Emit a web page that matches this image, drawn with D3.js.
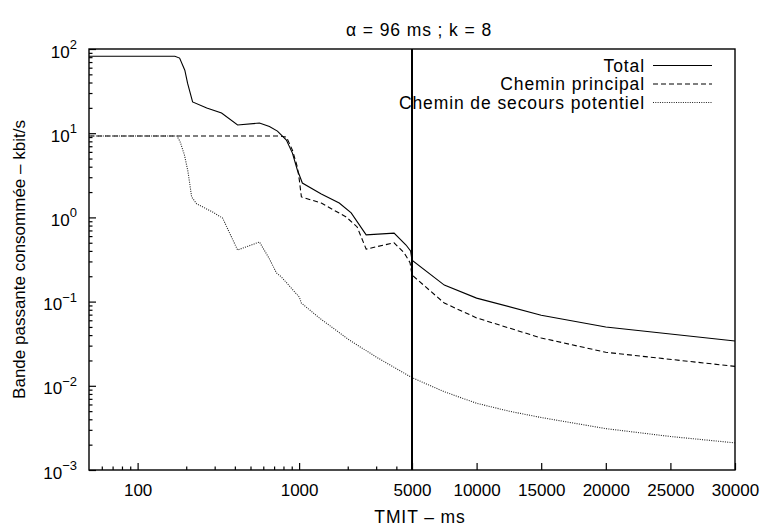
<!DOCTYPE html>
<html>
<head>
<meta charset="utf-8">
<script src="https://cdn.jsdelivr.net/npm/d3@7"></script>
<style>
  body { margin: 0; background: #fff; }
  text { font-family: "Liberation Sans", Arial, Helvetica, sans-serif; fill: #000; }
</style>
</head>
<body>
<svg id="chart" width="767" height="529"></svg>
<script>
// TMIT (ms) and consumed bandwidth (kbit/s) for each curve
const tmitTotal = [50, 170, 182, 196, 204, 219, 268, 331, 416, 568, 655, 734, 834, 909, 975, 1003, 1047, 1372, 1772, 2101, 2601, 3873, 4592, 4900, 5000, 7500, 10000, 15000, 20000, 30000];
const bwTotal   = [82, 82, 78, 56, 39, 23.5, 19.9, 17.4, 12.5, 13.2, 12.0, 10.6, 8.3, 5.8, 3.66, 3.19, 2.56, 1.90, 1.48, 1.13, 0.62, 0.65, 0.47, 0.40, 0.31, 0.157, 0.110, 0.069, 0.050, 0.034];

const tmitPrincipal = [50, 755, 834, 909, 975, 1003, 1033, 1372, 1958, 2287, 2601, 3873, 4467, 4862, 5000, 7500, 10000, 15000, 20000, 30000];
const bwPrincipal   = [9.27, 9.27, 9.0, 6.3, 3.97, 2.78, 1.75, 1.48, 1.01, 0.77, 0.42, 0.50, 0.38, 0.29, 0.207, 0.096, 0.064, 0.037, 0.025, 0.017];

const tmitSecours = [50, 175, 183, 195, 205, 216, 232, 291, 336, 416, 568, 650, 723, 777, 1003, 1033, 1334, 2043, 3000, 4000, 5000, 7500, 10000, 12500, 15000, 20000, 25000, 30000];
const bwSecours   = [9.27, 9.27, 8.0, 5.5, 3.5, 1.75, 1.45, 1.16, 0.98, 0.41, 0.51, 0.33, 0.22, 0.196, 0.113, 0.096, 0.064, 0.035, 0.022, 0.016, 0.0125, 0.0085, 0.0062, 0.0050, 0.0042, 0.0031, 0.0025, 0.0021];

// Axis ticks
const xMajorLog = [100, 1000, 5000];
const xMinorLog = [60, 70, 80, 90, 200, 300, 400, 500, 600, 700, 800, 900, 2000, 3000, 4000];
const xMajorLin = [10000, 15000, 20000, 25000, 30000];
const yMajor = [1e-3, 1e-2, 1e-1, 1e0, 1e1, 1e2];
const yExponents = ["\u22123", "\u22122", "\u22121", "0", "1", "2"];

const legendLabels = ["Total", "Chemin principal", "Chemin de secours potentiel"];
const chartTitle = "\u03b1 = 96 ms ; k = 8";
const xTitle = "TMIT \u2013 ms";
const yTitle = "Bande passante consomm\u00e9e \u2013 kbit/s";

// Plot frame
const L = 89, R = 735, T = 49, B = 470, BREAK = 5000;

const svg = d3.select("#chart");

// The x axis is logarithmic up to 5000 ms, then linear up to 30000 ms
const xLog = d3.scaleLog().domain([50, BREAK]).range([L, 412]);
const xLin = d3.scaleLinear().domain([BREAK, 30000]).range([412, R]);
const x = v => (v <= BREAK ? xLog(v) : xLin(v));
const y = d3.scaleLog().domain([1e-3, 1e2]).range([B, T]);

const tickFont = "17px";

function styleAxis(g) {
  g.select(".domain").remove();
  g.selectAll(".tick line").attr("stroke", "#000").attr("stroke-width", 1.2);
  g.selectAll(".tick text").style("font-size", tickFont);
}

// x axis: major and minor ticks, drawn inward
svg.append("g").attr("transform", `translate(0,${B})`)
  .call(d3.axisBottom(xLog).tickValues(xMajorLog).tickSize(-7).tickPadding(14).tickFormat(d3.format("d")))
  .call(styleAxis);
svg.append("g").attr("transform", `translate(0,${B})`)
  .call(d3.axisBottom(xLog).tickValues(xMinorLog).tickSize(-3.5).tickFormat(""))
  .call(styleAxis);
svg.append("g").attr("transform", `translate(0,${B})`)
  .call(d3.axisBottom(xLin).tickValues(xMajorLin).tickSize(-7).tickPadding(14).tickFormat(d3.format("d")))
  .call(styleAxis);

// y axis: decades with power-of-ten labels, minor ticks 2..9
const yMinor = [];
yMajor.slice(0, -1).forEach(d => { for (let m = 2; m <= 9; m++) yMinor.push(d * m); });

const gy = svg.append("g").attr("transform", `translate(${L},0)`)
  .call(d3.axisLeft(y).tickValues(yMajor).tickSize(-7).tickPadding(12))
  .call(styleAxis);
gy.selectAll(".tick text").each(function(d, i) {
  const t = d3.select(this);
  t.text(null).attr("dy", "0.47em");
  t.append("tspan").text("10");
  t.append("tspan").attr("dy", "-8.5").style("font-size", "13px").text(yExponents[i]);
});
svg.append("g").attr("transform", `translate(${L},0)`)
  .call(d3.axisLeft(y).tickValues(yMinor).tickSize(-3.5).tickFormat(""))
  .call(styleAxis);

// Frame
svg.append("rect").attr("x", L).attr("y", T).attr("width", R - L).attr("height", B - T)
  .attr("fill", "none").attr("stroke", "#000").attr("stroke-width", 1.4);

// Curves
const line = d3.line().x(d => x(d[0])).y(d => y(d[1]));
const series = [
  { tmit: tmitTotal, bw: bwTotal, dash: null, color: "#000" },
  { tmit: tmitPrincipal, bw: bwPrincipal, dash: "5,3", color: "#000" },
  { tmit: tmitSecours, bw: bwSecours, dash: "1,1.3", color: "#222" }
];
series.forEach(s => {
  svg.append("path")
    .datum(d3.zip(s.tmit, s.bw))
    .attr("d", line)
    .attr("fill", "none")
    .attr("stroke", s.color)
    .attr("stroke-width", 1.1)
    .attr("stroke-dasharray", s.dash);
});

// Separation between the logarithmic and linear parts
svg.append("line")
  .attr("x1", x(BREAK)).attr("x2", x(BREAK)).attr("y1", T).attr("y2", B)
  .attr("stroke", "#000").attr("stroke-width", 2);

// Legend
const legend = svg.append("g");
series.forEach((s, i) => {
  const by = 71.5 + i * 18.5;
  legend.append("text").attr("x", 645).attr("y", by).attr("text-anchor", "end")
    .style("font-size", "17.5px").style("letter-spacing", "0.9px").text(legendLabels[i]);
  legend.append("line").attr("x1", 653).attr("x2", 712).attr("y1", by - 6).attr("y2", by - 6)
    .attr("stroke", s.color).attr("stroke-width", 1.1).attr("stroke-dasharray", s.dash);
});

// Titles
svg.append("text").attr("x", 419).attr("y", 36).attr("text-anchor", "middle")
  .style("font-size", "17.5px").style("letter-spacing", "0.9px").text(chartTitle);
svg.append("text").attr("x", 420).attr("y", 523).attr("text-anchor", "middle")
  .style("font-size", "17.5px").style("letter-spacing", "0.9px").text(xTitle);
svg.append("text").attr("transform", `translate(25,${(T + B) / 2}) rotate(-90)`)
  .attr("text-anchor", "middle").style("font-size", "17px").text(yTitle);
</script>
</body>
</html>
